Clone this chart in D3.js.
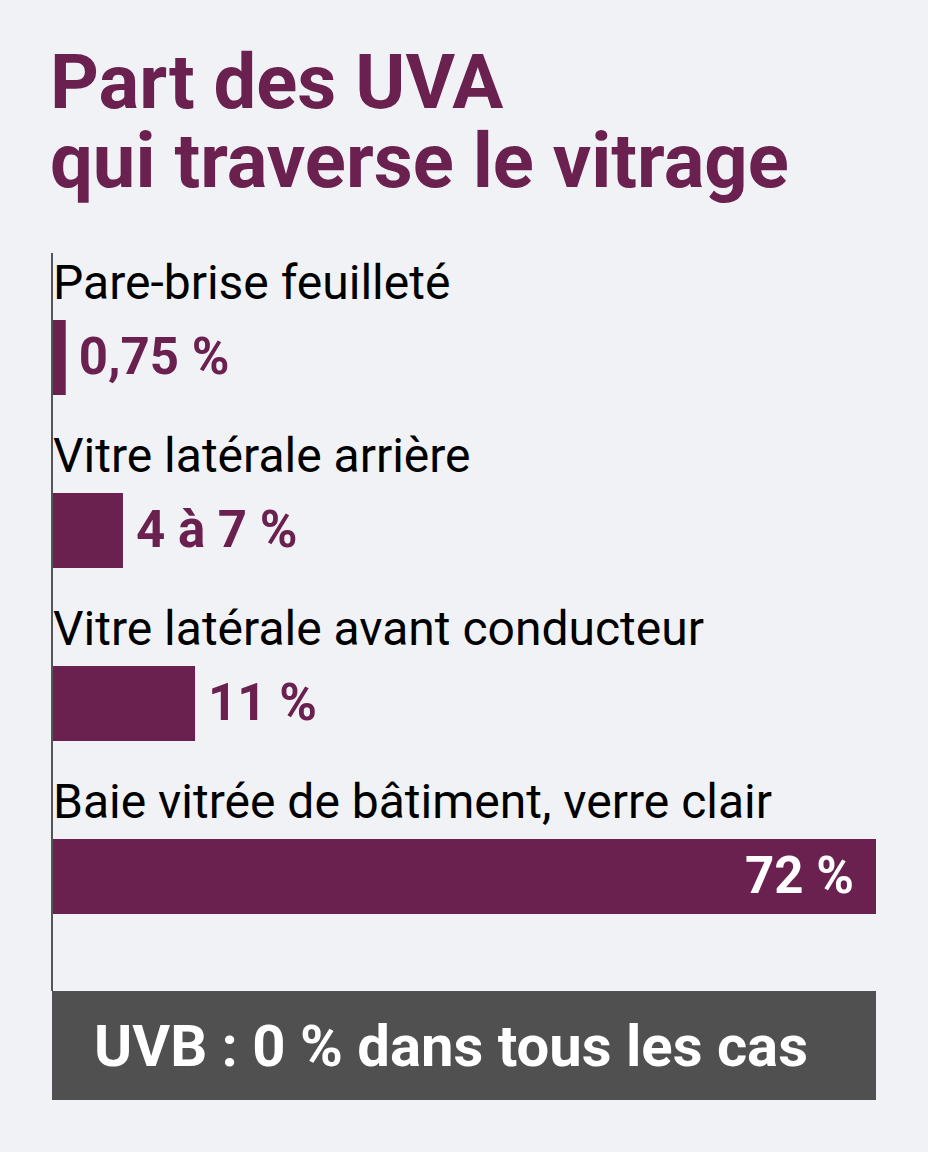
<!DOCTYPE html>
<html>
  <head>
    <meta charset="utf-8">
    <title>UVA vitrage</title>
    <script src="https://d3js.org/d3.v7.min.js"></script>
    <style type="text/css">
    body { margin: 0; background: #f1f2f5; }
    text { font-family: Roboto, "Noto Sans", sans-serif; }
    </style>
  </head>
  <body>
    <div id="chart"></div>
    <script>
      // données
      var categories = [
        "Pare-brise feuilleté",
        "Vitre latérale arrière",
        "Vitre latérale avant conducteur",
        "Baie vitrée de bâtiment, verre clair"
      ];
      var barValues = [1.2, 6.2, 12.5, 72];   // longueur des barres (%)
      var valueLabels = ["0,75 %", "4 à 7 %", "11 %", "72 %"];
      var titleLines = ["Part des UVA", "qui traverse le vitrage"];
      var noteText = "UVB : 0 % dans tous les cas";

      var width = 928,
          height = 1152,
          left = 52,
          right = 876,
          purple = "#6b2150";

      var svg = d3.select("#chart").append("svg")
          .attr("width", width)
          .attr("height", height);

      svg.append("rect")
          .attr("width", width)
          .attr("height", height)
          .attr("fill", "#f1f2f5");

      // titre
      svg.selectAll(".title")
          .data(titleLines)
          .enter().append("text")
          .attr("class", "title")
          .attr("x", 50)
          .attr("y", function(d, i){ return 108 + i * 79; })
          .attr("fill", purple)
          .style("font-size", "76px")
          .style("font-weight", "bold")
          .text(function(d){ return d; });

      var x = d3.scaleLinear()
          .domain([0, 72])
          .range([left, right]);

      var y = d3.scaleBand()
          .domain(categories)
          .range([255, 255 + 173 * categories.length]);

      var rows = svg.selectAll(".row")
          .data(categories)
          .enter().append("g")
          .attr("class", "row")
          .attr("transform", function(d){ return "translate(0," + y(d) + ")"; });

      rows.append("text")
          .attr("x", 53)
          .attr("y", 44)
          .attr("fill", "#000")
          .style("font-size", "48px")
          .text(function(d){ return d; });

      rows.append("rect")
          .attr("x", left)
          .attr("y", 65)
          .attr("height", 75)
          .attr("width", function(d, i){ return x(barValues[i]) - left; })
          .attr("fill", purple);

      rows.append("text")
          .attr("x", function(d, i){
            return i === categories.length - 1 ? x(barValues[i]) - 22 : x(barValues[i]) + 13;
          })
          .attr("y", 119)
          .attr("text-anchor", function(d, i){ return i === categories.length - 1 ? "end" : "start"; })
          .attr("fill", function(d, i){ return i === categories.length - 1 ? "#fff" : purple; })
          .style("font-size", "51px")
          .style("font-weight", "bold")
          .text(function(d, i){ return valueLabels[i]; });

      // axe vertical
      svg.append("line")
          .attr("x1", left).attr("x2", left)
          .attr("y1", 253).attr("y2", 991)
          .attr("stroke", "#555")
          .attr("stroke-width", 2);

      // encadré UVB
      svg.append("rect")
          .attr("x", left)
          .attr("y", 991)
          .attr("width", right - left)
          .attr("height", 109)
          .attr("fill", "#505050");

      svg.append("text")
          .attr("x", 94)
          .attr("y", 1066)
          .attr("fill", "#fff")
          .style("font-size", "58px")
          .style("font-weight", "bold")
          .text(noteText);
    </script>
  </body>
</html>
